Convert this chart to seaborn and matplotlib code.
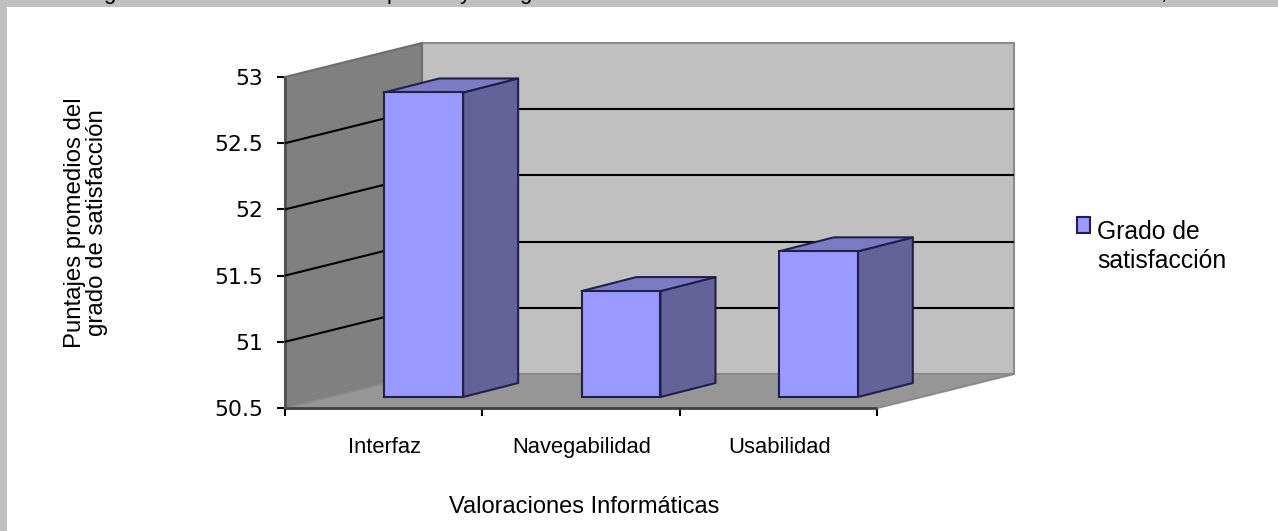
import matplotlib
matplotlib.use("Agg")
import matplotlib.pyplot as plt
import numpy as np
import pandas as pd
import seaborn as sns
from matplotlib.patches import Polygon, Rectangle
from matplotlib.transforms import Affine2D, IdentityTransform

categories = ["Interfaz", "Navegabilidad", "Usabilidad"]
values = [52.8, 51.3, 51.6]
series_name = "Grado de\nsatisfacción"
y_ticks = [50.5, 51, 51.5, 52, 52.5, 53]
y_tick_labels = ["50.5", "51", "51.5", "52", "52.5", "53"]
x_title = "Valoraciones Informáticas"
y_title = "Puntajes promedios del\ngrado de satisfacción"

W, H = 1278, 531
DEPTH = np.array([137, 34])       # wall depth in pixels
BAR_SHIFT = np.array([40, 11])    # bars stand inside the floor
BAR_DEPTH = np.array([55, 14])

sns.set_theme(style="white")
plt.rcParams["font.family"] = ["Liberation Sans", "DejaVu Sans"]

fig = plt.figure(figsize=(W / 100, H / 100), dpi=100, facecolor="#C0C0C0")
fig.add_artist(Rectangle((7 / W, 0), 1, 1 - 7 / H, transform=fig.transFigure,
                         facecolor="white", edgecolor="none", zorder=-5))

# only the descenders of the cut off caption above the chart are left
for ch, px in zip(["g", "p", "y", "g", ","], [109, 393, 465, 525, 1164]):
    fig.text(px / W, 1.001, ch, fontsize=16, color="black", ha="center", va="baseline")

ax = fig.add_axes([285 / W, (H - 408) / H, 592 / W, 331 / H], facecolor="none")

df = pd.DataFrame({"categoria": categories, "valor": values, "serie": series_name})
sns.barplot(data=df, x="categoria", y="valor", hue="serie", palette=["#9999FF"],
            saturation=1, width=0.4, dodge=False, edgecolor="#20204A", linewidth=1.5,
            zorder=6, ax=ax)
ax.set_xlim(-0.5, 2.5)
ax.set_ylim(50.5, 53)
sns.despine(ax=ax, left=True, bottom=True)


def to_px(x, y):
    return ax.transData.transform((x, y))


def face(points, color, zorder, edge="none"):
    ax.add_patch(Polygon(points, closed=True, transform=IdentityTransform(),
                         facecolor=color, edgecolor=edge, linewidth=1.5,
                         joinstyle="round", zorder=zorder, clip_on=False))


def line(a, b, color="black", lw=1.5, zorder=3):
    ax.plot([a[0], b[0]], [a[1], b[1]], color=color, lw=lw, zorder=zorder,
            transform=IdentityTransform(), clip_on=False, solid_capstyle="butt")


# walls and floor
fl, fr = to_px(-0.5, 50.5), to_px(2.5, 50.5)
tl, tr = to_px(-0.5, 53), to_px(2.5, 53)
face([fl + DEPTH, fr + DEPTH, tr + DEPTH, tl + DEPTH], "#C0C0C0", 1, "#8C8C8C")
face([fl, fl + DEPTH, tl + DEPTH, tl], "#808080", 1, "#6E6E6E")
face([fl, fr, fr + DEPTH, fl + DEPTH], "#969696", 2, "#8A8A8A")
line(fl, fr, "#404040", 2, 3)
line(fl, tl, "#505050", 2, 3)

# gridlines run along the left wall and the back wall
for tick in y_ticks[1:-1]:
    left = to_px(-0.5, tick)
    line(left, left + DEPTH)
    line(left + DEPTH, to_px(2.5, tick) + DEPTH)

# bars start at the axis floor, get moved into it, then side and top faces are added
for bar in list(ax.patches):
    if not isinstance(bar, Rectangle) or bar.get_height() == 0:
        continue
    top = bar.get_y() + bar.get_height()
    bar.set_y(y_ticks[0])
    bar.set_height(top - y_ticks[0])
    bar.set_transform(ax.transData + Affine2D().translate(*BAR_SHIFT))
    bar.set_clip_on(False)
    x0, x1 = bar.get_x(), bar.get_x() + bar.get_width()
    y0, y1 = bar.get_y(), top
    front_tl = to_px(x0, y1) + BAR_SHIFT
    front_tr = to_px(x1, y1) + BAR_SHIFT
    front_br = to_px(x1, y0) + BAR_SHIFT
    face([front_tr, front_br, front_br + BAR_DEPTH, front_tr + BAR_DEPTH], "#636399", 5, "#20204A")
    face([front_tl, front_tr, front_tr + BAR_DEPTH, front_tl + BAR_DEPTH], "#7B7BC4", 5, "#20204A")

ax.set_yticks(y_ticks)
ax.set_yticklabels(y_tick_labels, fontsize=15.8, family="DejaVu Sans", color="black")
ax.set_xticks([-0.5, 0.5, 1.5, 2.5])
ax.set_xticklabels([])
ax.tick_params(axis="both", length=6, width=1.5, color="black", left=True, bottom=True)
ax.tick_params(axis="y", pad=10)
ax.set_xlabel("")
ax.set_ylabel("")

for i, name in enumerate(categories):
    ax.annotate(name, xy=(i, 50.5), xytext=(1, -45), xycoords="data", textcoords="offset pixels",
                ha="center", va="baseline", fontsize=15.8, color="black")

fig.text(584 / W, 1 - 507 / H, x_title, fontsize=17, color="black", ha="center", va="center")
fig.text(86 / W, 1 - 223 / H, y_title, fontsize=17.3, color="black", rotation=90,
         ha="center", va="center", linespacing=1.0, multialignment="center")

handles, labels = ax.get_legend_handles_labels()
leg = ax.legend(handles, labels, loc="upper left", bbox_to_anchor=(1065 / W, 1 - 208 / H),
                bbox_transform=fig.transFigure, frameon=False, fontsize=17.8, handlelength=0.5,
                handleheight=0.6, handletextpad=0.3, borderpad=0, labelspacing=0,
                labelcolor="black")
leg.get_texts()[0].set_linespacing(1.25)
# swatch sits next to the first line of the label
swatch = leg.legend_handles[0]
swatch.set_y(swatch.get_y() + 16)

fig.savefig("out.png", dpi=100, facecolor=fig.get_facecolor())
